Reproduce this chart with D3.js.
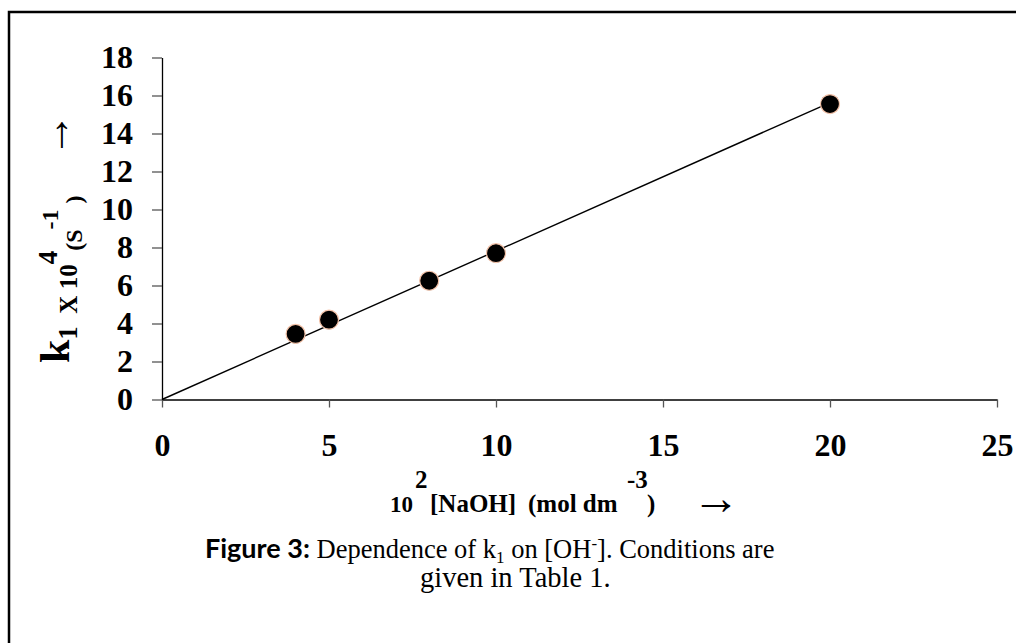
<!DOCTYPE html>
<html>
<head>
<meta charset="utf-8">
<script src="https://cdn.jsdelivr.net/npm/d3@7"></script>
<style>
  body { margin: 0; background: #fff; }
  svg { display: block; }
  text { white-space: pre; }
</style>
</head>
<body>
<div id="chart"></div>
<script>
// chart values
var naoh = [4, 5, 8, 10, 20];            // 10^2 [NaOH]
var k1 = [3.45, 4.2, 6.25, 7.7, 15.55];  // k1 x 10^4 (s^-1)
var xTicks = [0, 5, 10, 15, 20, 25];
var yTicks = [0, 2, 4, 6, 8, 10, 12, 14, 16, 18];

var W = 1016, H = 643;
var serif = "'Liberation Serif', 'Times New Roman', serif";

var svg = d3.select("#chart").append("svg")
  .attr("width", W)
  .attr("height", H);

svg.append("rect").attr("width", W).attr("height", H).attr("fill", "#fff");

// outer frame (runs off the right and bottom edges)
svg.append("rect")
  .attr("x", 9).attr("y", 12)
  .attr("width", W + 20).attr("height", H + 20)
  .attr("fill", "none")
  .attr("stroke", "#000")
  .attr("stroke-width", 2.5);

var x = d3.scaleLinear().domain([0, 25]).range([162, 997]);
var y = d3.scaleLinear().domain([0, 18]).range([399.5, 57.5]);

// x axis
var gx = svg.append("g")
  .attr("transform", "translate(0," + y(0) + ")")
  .call(d3.axisBottom(x).tickValues(xTicks).tickSize(8).tickSizeOuter(0).tickPadding(26));

// y axis
var gy = svg.append("g")
  .attr("transform", "translate(" + x(0) + ",0)")
  .call(d3.axisLeft(y).tickValues(yTicks).tickSize(10).tickSizeOuter(0).tickPadding(19));

[gx, gy].forEach(function(g) {
  g.select(".domain").attr("stroke", "#000").attr("stroke-width", 1.3);
  g.selectAll(".tick line").attr("stroke", "#555").attr("stroke-width", 1.3);
  g.selectAll(".tick text")
    .attr("fill", "#000")
    .attr("font-family", serif)
    .attr("font-weight", "bold")
    .attr("font-size", "32px");
});

// zero-intercept trendline, slope from least squares through origin
var slope = d3.sum(naoh, function(v, i) { return v * k1[i]; }) /
            d3.sum(naoh, function(v) { return v * v; });
var xEnd = d3.max(naoh);
svg.append("line")
  .attr("x1", x(0)).attr("y1", y(0))
  .attr("x2", x(xEnd)).attr("y2", y(slope * xEnd))
  .attr("stroke", "#000")
  .attr("stroke-width", 1.4);

// points
svg.selectAll("circle.pt")
  .data(naoh)
  .enter()
  .append("circle")
  .attr("class", "pt")
  .attr("cx", function(d) { return x(d); })
  .attr("cy", function(d, i) { return y(k1[i]); })
  .attr("r", 9.5)
  .attr("fill", "#000")
  .attr("stroke", "#f4c2a8")
  .attr("stroke-width", 1.2);

// y axis title (rotated)
var yt = svg.append("text")
  .attr("transform", "translate(69,363) rotate(-90)")
  .attr("font-family", serif)
  .attr("font-weight", "bold")
  .attr("fill", "#000");
yt.append("tspan").attr("font-size", "42px").text("k");
yt.append("tspan").attr("font-size", "27px").attr("dy", 8).text("1");
yt.append("tspan").attr("font-size", "25px").text("  X 10");
yt.append("tspan").attr("font-size", "27px").attr("dy", -20).text("4");
yt.append("tspan").attr("font-size", "24px").attr("dy", 25).text("(S");
yt.append("tspan").attr("font-size", "24px").attr("dy", -24).text("-1");
yt.append("tspan").attr("font-size", "24px").attr("dy", 24).text(" )");

svg.append("text")
  .attr("transform", "translate(69,157) rotate(-90)")
  .attr("font-family", serif)
  .attr("font-size", "44px")
  .attr("fill", "#000")
  .text("\u2192");

// x axis title
var xt = svg.append("text")
  .attr("y", 512)
  .attr("font-family", serif)
  .attr("font-weight", "bold")
  .attr("fill", "#000");
xt.append("tspan").attr("x", 390).attr("font-size", "23px").text("10");
xt.append("tspan").attr("x", 415).attr("font-size", "25px").attr("dy", -24).text("2");
xt.append("tspan").attr("x", 430).attr("font-size", "25px").attr("dy", 24).text("[NaOH]");
xt.append("tspan").attr("x", 528).attr("font-size", "25px").text("(mol dm");
xt.append("tspan").attr("x", 627).attr("font-size", "25px").attr("dy", -24).text("-3");
xt.append("tspan").attr("x", 647).attr("font-size", "25px").attr("dy", 24).text(")");

svg.append("text")
  .attr("x", 692).attr("y", 514)
  .attr("font-family", serif)
  .attr("font-size", "48px")
  .attr("fill", "#000")
  .text("\u2192");

// caption
var cap = svg.append("text")
  .attr("x", 205).attr("y", 558)
  .attr("font-family", serif)
  .attr("font-size", "26.5px")
  .attr("fill", "#000");
cap.append("tspan")
  .attr("font-family", "Lato, 'Open Sans', sans-serif")
  .attr("font-weight", "bold")
  .attr("font-size", "27px")
  .text("Figure 3:");
cap.append("tspan").text(" Dependence of k");
cap.append("tspan").attr("font-size", "17px").attr("dy", 5).text("1");
cap.append("tspan").attr("dy", -5).text(" on [OH");
cap.append("tspan").attr("font-size", "17px").attr("dy", -9).text("-");
cap.append("tspan").attr("dy", 9).text("]. Conditions are");

svg.append("text")
  .attr("x", 420).attr("y", 587)
  .attr("font-family", serif)
  .attr("font-size", "28.5px")
  .attr("fill", "#000")
  .text("given in Table 1.");
</script>
</body>
</html>
